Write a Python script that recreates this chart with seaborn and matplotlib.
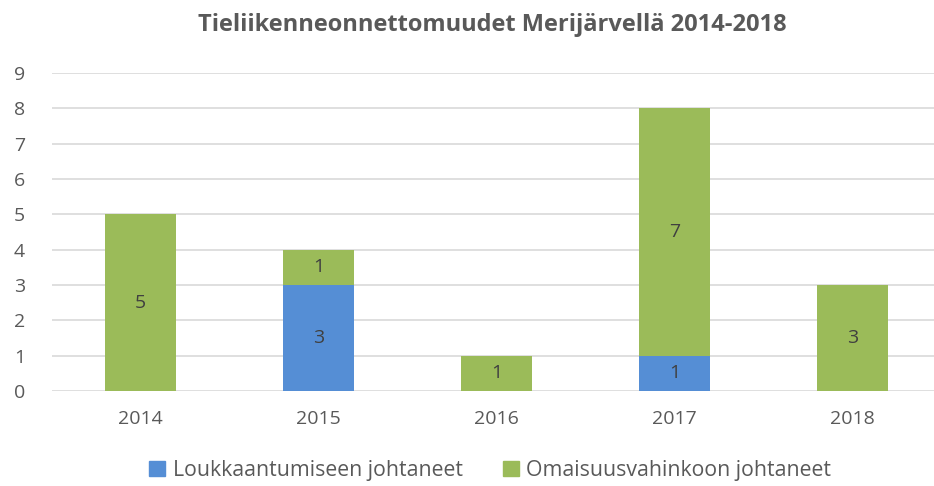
import numpy as np
import pandas as pd
import matplotlib
matplotlib.use("Agg")
import matplotlib.pyplot as plt
import seaborn as sns
from matplotlib.patches import Patch

# Data
years = ["2014", "2015", "2016", "2017", "2018"]
loukkaantuminen = [0, 3, 0, 1, 0]
omaisuusvahinko = [5, 1, 1, 7, 3]
series_names = ["Loukkaantumiseen johtaneet", "Omaisuusvahinkoon johtaneet"]
title = "Tieliikenneonnettomuudet Merijärvellä 2014-2018"

blue = "#558ED5"
green = "#9BBB59"
text_col = "#595959"

sns.set_style("white")
plt.rcParams["font.family"] = ["Open Sans", "DejaVu Sans"]

df = pd.DataFrame({"vuosi": years,
                   "louk": loukkaantuminen,
                   "omai": omaisuusvahinko})
df["total"] = df["louk"] + df["omai"]

fig = plt.figure(figsize=(9.34, 4.86), dpi=100)
ax = fig.add_axes([51.5 / 934, 1 - 391 / 486, 1 - 51.5 / 934, (391 - 73) / 486])

# stacked bars: totals in green, blue drawn over the bottom part
sns.barplot(data=df, x="vuosi", y="total", color=green, width=0.4,
            saturation=1, linewidth=0, ax=ax, zorder=3)
sns.barplot(data=df, x="vuosi", y="louk", color=blue, width=0.4,
            saturation=1, linewidth=0, ax=ax, zorder=4)

# value labels in the middle of each segment
for i, row in df.iterrows():
    if row["louk"] > 0:
        ax.text(i, row["louk"] / 2, str(row["louk"]), ha="center", va="center",
                fontsize=14, color="#404040", zorder=5)
    if row["omai"] > 0:
        ax.text(i, row["louk"] + row["omai"] / 2, str(row["omai"]), ha="center",
                va="center", fontsize=14, color="#404040", zorder=5)

ax.set_ylim(0, 9)
ax.set_xlim(-0.5, -0.5 + (934 - 51.5) / 178)
ax.set_yticks(range(0, 10))
ax.yaxis.grid(True, color="#D9D9D9", linewidth=1.2)
ax.set_axisbelow(True)
sns.despine(ax=ax, left=True, bottom=True, top=True, right=True)
ax.tick_params(axis="both", length=0, labelsize=14, colors=text_col)
ax.tick_params(axis="x", pad=14)
ax.tick_params(axis="y", pad=19)
ax.set_xlabel("")
ax.set_ylabel("")

ax.set_title(title, fontsize=17, fontweight="bold", color=text_col, pad=30)

handles = [Patch(color=blue), Patch(color=green)]
fig.legend(handles, series_names, loc="center", bbox_to_anchor=(0.525, 0.032),
           ncol=2, frameon=False, fontsize=15.3, handlelength=0.75, handleheight=0.75,
           handletextpad=0.35, columnspacing=1.9, labelcolor=text_col)

fig.savefig("out.png", dpi=100)
